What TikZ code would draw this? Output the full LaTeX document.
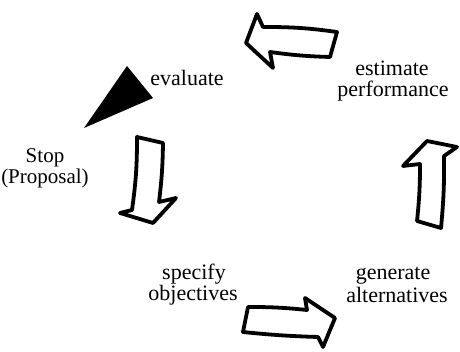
\documentclass[tikz,border=0pt]{standalone}
\usepackage{fontspec}
\setmainfont{Liberation Serif}
\begin{document}
\begin{tikzpicture}[x=1pt,y=-1pt,
  lbl/.style={anchor=base,font=\fontsize{22}{22}\selectfont,inner sep=0pt},
  fatarrow/.style={draw=black,line width=3.8pt,line join=round,fill=white}]
\useasboundingbox (0,0) rectangle (460,352);

% labels of the cycle, one node per printed line
\node[lbl] (eval) at (187,86) {evaluate};
\node[lbl] (est1) at (392,76) {estimate};
\node[lbl] (est2) at (393,97) {performance};
\node[lbl,font=\fontsize{21}{21}\selectfont] (stop1) at (45,163) {Stop};
\node[lbl,font=\fontsize{21}{21}\selectfont] (stop2) at (45,184) {(Proposal)};
\node[lbl] (spec1) at (194,280) {specify};
\node[lbl] (spec2) at (193,301) {objectives};
\node[lbl] (gen1) at (393,280) {generate};
\node[lbl] (gen2) at (397,302) {alternatives};

% black wedge beside "evaluate"
\fill[black] (127,66) -- (153,98) -- (84,128) -- cycle;

% top arrow, pointing left
\draw[fatarrow] (246,43) -- (257,14) -- (263,27)
  to[bend left=4] (337,32) -- (330,57)
  to[bend left=3] (270,52) -- (273,68) -- cycle;

% left arrow, pointing down
\draw[fatarrow] (137,137) -- (163,143)
  to[bend left=3] (159,202) -- (176,198) -- (153,223) -- (120,213) -- (132,210)
  to[bend right=4] cycle;

% bottom arrow, pointing right
\draw[fatarrow] (248,307) to[bend left=3] (307,310) -- (305,298) -- (335,318)
  -- (323,347) -- (318,337) to[bend left=2] (243,332) -- cycle;

% right arrow, pointing up
\draw[fatarrow] (427,141) -- (457,147) -- (444,156)
  to[bend left=3] (441,228) -- (417,221)
  to[bend right=3] (420,164) -- (403,166) -- cycle;
\end{tikzpicture}
\end{document}
